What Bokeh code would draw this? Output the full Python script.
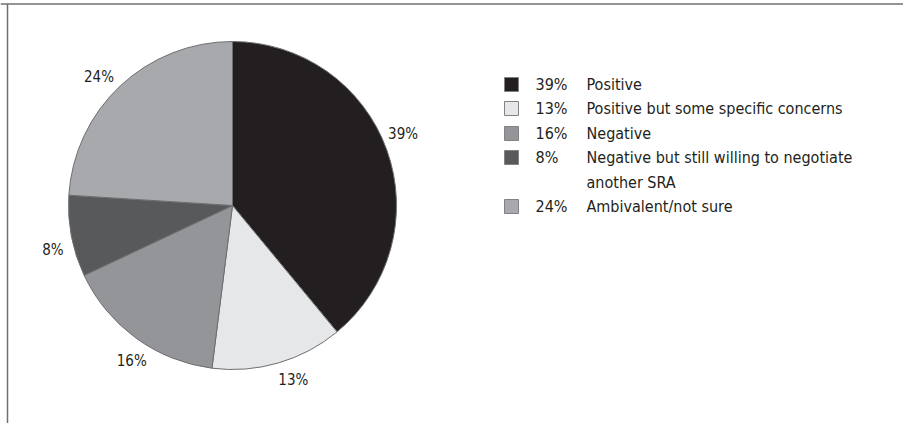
import numpy as np
from bokeh.plotting import figure
from bokeh.models import Range1d, ColumnDataSource
from bokeh.core.properties import value
from bokeh.embed import file_html
from bokeh.resources import INLINE

# ---- data ----
categories = ["Positive", "Positive but some specific concerns", "Negative",
              "Negative but still willing to negotiate another SRA", "Ambivalent/not sure"]
legend_lines = [["Positive"], ["Positive but some specific concerns"], ["Negative"],
                ["Negative but still willing to negotiate", "another SRA"], ["Ambivalent/not sure"]]
percent = [39, 13, 16, 8, 24]
colors = ["#231f20", "#e6e7e8", "#939598", "#58595b", "#a7a9ac"]

FONT = "Liberation Sans Narrow, DejaVu Sans Condensed, Roboto"
W, H = 903, 423

p = figure(width=W, height=H, x_range=Range1d(0, W), y_range=Range1d(0, H),
           output_backend="svg", toolbar_location=None, min_border=0,
           outline_line_color=None, background_fill_color="white")
p.axis.visible = False
p.grid.visible = False

def sy(y):
    return H - y

# frame (top and left rules)
p.segment(x0=[0], y0=[sy(3.5)], x1=[W], y1=[sy(3.5)], line_color="#707070", line_width=1.5)
p.segment(x0=[7], y0=[sy(3.5)], x1=[7], y1=[0], line_color="#707070", line_width=1.5)

# ---- pie ----
cx, cy, r = 232, sy(205), 164
frac = np.array(percent, dtype=float) / sum(percent)
c1 = np.cumsum(frac)
c0 = c1 - frac
start = np.pi / 2 - 2 * np.pi * c1
end = np.pi / 2 - 2 * np.pi * c0
src = ColumnDataSource(dict(start=start, end=end, color=colors))
p.wedge(x=cx, y=cy, radius=r, start_angle="start", end_angle="end", source=src,
        fill_color="color", line_color="#6d6e71", line_width=1)

mid = np.pi / 2 - 2 * np.pi * (c0 + c1) / 2 + np.deg2rad(3)
R = 185
lab = ColumnDataSource(dict(x=cx + R * np.cos(mid), y=cy + R * np.sin(mid),
                            t=[f"{v}%" for v in percent]))
p.text(x="x", y="y", text="t", source=lab, text_align="center", text_baseline="middle",
       text_font=value(FONT), text_font_size="15px", text_color="#231f20")

# ---- legend ----
row_y = [84, 108, 133, 157, 206]
wrap_dy = 24.5
sq = 14
for i, (pc, lines, col) in enumerate(zip(percent, legend_lines, colors)):
    y = row_y[i]
    p.rect(x=[504 + sq / 2], y=[sy(y)], width=sq, height=sq, fill_color=col,
           line_color="#808285", line_width=1)
    p.text(x=[535], y=[sy(y)], text=[f"{pc}%"], text_align="left", text_baseline="middle",
           text_font=value(FONT), text_font_size="16px", text_color="#231f20")
    for j, ln in enumerate(lines):
        p.text(x=[586], y=[sy(y + j * wrap_dy)], text=[ln], text_align="left",
               text_baseline="middle", text_font=value(FONT), text_font_size="16px",
               text_color="#231f20")

open("out.html", "w").write(file_html(p, INLINE))
